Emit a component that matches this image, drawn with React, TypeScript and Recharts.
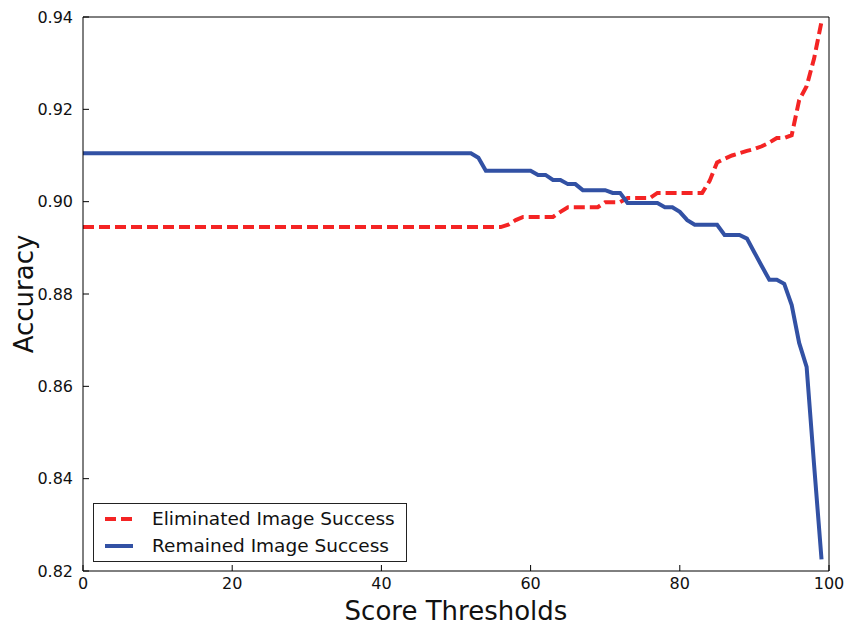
import {
  LineChart,
  Line,
  XAxis,
  YAxis,
  Legend,
} from "recharts";

const thresholds = [
  0, 1, 2, 3, 4, 5, 6, 7, 8, 9,
  10, 11, 12, 13, 14, 15, 16, 17, 18, 19,
  20, 21, 22, 23, 24, 25, 26, 27, 28, 29,
  30, 31, 32, 33, 34, 35, 36, 37, 38, 39,
  40, 41, 42, 43, 44, 45, 46, 47, 48, 49,
  50, 51, 52, 53, 54, 55, 56, 57, 58, 59,
  60, 61, 62, 63, 64, 65, 66, 67, 68, 69,
  70, 71, 72, 73, 74, 75, 76, 77, 78, 79,
  80, 81, 82, 83, 84, 85, 86, 87, 88, 89,
  90, 91, 92, 93, 94, 95, 96, 97, 98, 99,
];

const eliminated = [
  0.8945, 0.8945, 0.8945, 0.8945, 0.8945, 0.8945, 0.8945, 0.8945, 0.8945, 0.8945,
  0.8945, 0.8945, 0.8945, 0.8945, 0.8945, 0.8945, 0.8945, 0.8945, 0.8945, 0.8945,
  0.8945, 0.8945, 0.8945, 0.8945, 0.8945, 0.8945, 0.8945, 0.8945, 0.8945, 0.8945,
  0.8945, 0.8945, 0.8945, 0.8945, 0.8945, 0.8945, 0.8945, 0.8945, 0.8945, 0.8945,
  0.8945, 0.8945, 0.8945, 0.8945, 0.8945, 0.8945, 0.8945, 0.8945, 0.8945, 0.8945,
  0.8945, 0.8945, 0.8945, 0.8945, 0.8945, 0.8945, 0.8945, 0.895, 0.896, 0.8967,
  0.8967, 0.8967, 0.8967, 0.8967, 0.8978, 0.8988, 0.8988, 0.8988, 0.8988, 0.8988,
  0.8999, 0.8999, 0.8999, 0.9008, 0.9008, 0.9008, 0.9008, 0.9019, 0.9019, 0.9019,
  0.9019, 0.9019, 0.9019, 0.9019, 0.9045, 0.9085, 0.9093, 0.91, 0.9105, 0.911,
  0.9114, 0.912, 0.9128, 0.9138, 0.9138, 0.9144, 0.922, 0.925, 0.931, 0.939,
];

const remained = [
  0.9105, 0.9105, 0.9105, 0.9105, 0.9105, 0.9105, 0.9105, 0.9105, 0.9105, 0.9105,
  0.9105, 0.9105, 0.9105, 0.9105, 0.9105, 0.9105, 0.9105, 0.9105, 0.9105, 0.9105,
  0.9105, 0.9105, 0.9105, 0.9105, 0.9105, 0.9105, 0.9105, 0.9105, 0.9105, 0.9105,
  0.9105, 0.9105, 0.9105, 0.9105, 0.9105, 0.9105, 0.9105, 0.9105, 0.9105, 0.9105,
  0.9105, 0.9105, 0.9105, 0.9105, 0.9105, 0.9105, 0.9105, 0.9105, 0.9105, 0.9105,
  0.9105, 0.9105, 0.9105, 0.9095, 0.9067, 0.9067, 0.9067, 0.9067, 0.9067, 0.9067,
  0.9067, 0.9058, 0.9058, 0.9047, 0.9047, 0.9038, 0.9038, 0.9025, 0.9025, 0.9025,
  0.9025, 0.9019, 0.9019, 0.8997, 0.8997, 0.8997, 0.8997, 0.8997, 0.8988, 0.8988,
  0.8978, 0.896, 0.895, 0.895, 0.895, 0.895, 0.8928, 0.8928, 0.8928, 0.892,
  0.889, 0.886, 0.8831, 0.8831, 0.8822, 0.8776, 0.8694, 0.8642, 0.843, 0.8225,
];

const xTicks = [0, 20, 40, 60, 80, 100];
const yTicks = [0.82, 0.84, 0.86, 0.88, 0.9, 0.92, 0.94];

const data = thresholds.map((t, i) => ({
  threshold: t,
  eliminated: eliminated[i],
  remained: remained[i],
}));

const RED = "#f42424";
const BLUE = "#3251a4";
const FONT = "'DejaVu Sans', sans-serif";

function LegendBox() {
  const row = (label: string, color: string, dash?: string) => (
    <div style={{ display: "flex", alignItems: "center", height: 27 }}>
      <svg width={28} height={6} style={{ marginLeft: 11, marginRight: 19 }}>
        <line x1={0} y1={3} x2={28} y2={3} stroke={color} strokeWidth={4} strokeDasharray={dash} />
      </svg>
      <span>{label}</span>
    </div>
  );
  return (
    <div
      style={{
        width: 314,
        height: 59,
        boxSizing: "border-box",
        border: "1px solid #222",
        background: "#fff",
        fontFamily: FONT,
        fontSize: 18.5,
        color: "#111",
        paddingTop: 1,
      }}
    >
      {row("Eliminated Image Success", RED, "11 5")}
      {row("Remained Image Success", BLUE)}
    </div>
  );
}

export default function App() {
  return (
    <div style={{ position: "absolute", left: 0, top: 0, background: "#fff" }}>
      <LineChart
        width={845}
        height={628}
        data={data}
        margin={{ top: 16, right: 15, bottom: 0, left: 0 }}
      >
        <XAxis
          xAxisId="bottom"
          dataKey="threshold"
          type="number"
          domain={[0, 100]}
          ticks={xTicks}
          height={57}
          stroke="#000"
          tickSize={-6}
          tickMargin={13}
          tick={{ fill: "#111", fontSize: 16, fontFamily: FONT }}
          label={{
            value: "Score Thresholds",
            position: "insideBottom",
            offset: 8,
            style: { fill: "#111", fontSize: 26, fontFamily: FONT },
          }}
        />
        <XAxis
          xAxisId="top"
          orientation="top"
          type="number"
          domain={[0, 100]}
          ticks={xTicks}
          height={1}
          stroke="#000"
          tickSize={-6}
          tick={false}
          allowDataOverflow
        />
        <YAxis
          yAxisId="left"
          type="number"
          domain={[0.82, 0.94]}
          ticks={yTicks}
          width={83}
          stroke="#000"
          tickSize={-6}
          tickMargin={16}
          tickFormatter={(v: number) => v.toFixed(2)}
          tick={{ fill: "#111", fontSize: 16, fontFamily: FONT }}
          label={{
            value: "Accuracy",
            angle: -90,
            position: "insideLeft",
            offset: 24,
            style: { fill: "#111", fontSize: 26, fontFamily: FONT, textAnchor: "middle" },
          }}
          allowDataOverflow
        />
        <YAxis
          yAxisId="right"
          orientation="right"
          type="number"
          domain={[0.82, 0.94]}
          ticks={yTicks}
          width={1}
          stroke="#000"
          tickSize={-6}
          tick={false}
          allowDataOverflow
        />
        <Legend
          layout="horizontal"
          verticalAlign="middle"
          align="center"
          wrapperStyle={{ position: "absolute", left: 93, top: 503, width: "auto" }}
          content={() => <LegendBox />}
        />
        <Line
          xAxisId="bottom"
          yAxisId="left"
          type="linear"
          dataKey="eliminated"
          stroke={RED}
          strokeWidth={4}
          strokeDasharray="11 5"
          dot={false}
          isAnimationActive={false}
          name="Eliminated Image Success"
        />
        <Line
          xAxisId="bottom"
          yAxisId="left"
          type="linear"
          dataKey="remained"
          stroke={BLUE}
          strokeWidth={4}
          dot={false}
          isAnimationActive={false}
          name="Remained Image Success"
        />
      </LineChart>
    </div>
  );
}
